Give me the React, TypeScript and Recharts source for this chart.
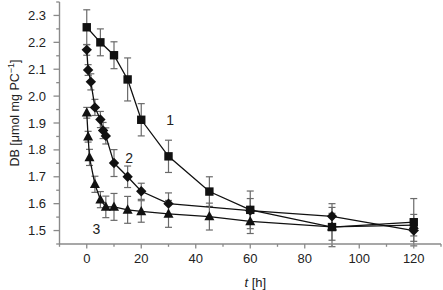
import React from 'react';
import { LineChart, Line, XAxis, YAxis, ErrorBar, ReferenceDot } from 'recharts';

// Series 1 (squares)
const tSquare = [0, 5, 10, 15, 20, 30, 45, 60, 90, 120];
const dbSquare = [2.256, 2.2, 2.152, 2.062, 1.912, 1.776, 1.645, 1.577, 1.513, 1.531];
const errSquare = [0.065, 0.05, 0.05, 0.08, 0.06, 0.06, 0.055, 0.07, 0.073, 0.088];

// Series 2 (diamonds)
const tDiamond = [0, 0.5, 1.5, 3, 5, 6, 7, 10, 15, 20, 30, 60, 90, 120];
const dbDiamond = [2.172, 2.097, 2.053, 1.958, 1.913, 1.872, 1.852, 1.751, 1.7, 1.646, 1.6, 1.574, 1.553, 1.5];
const errDiamond = [0.02, 0.02, 0.03, 0.03, 0.03, 0.03, 0.03, 0.05, 0.04, 0.03, 0.04, 0.045, 0.047, 0.04];

// Series 3 (triangles)
const tTriangle = [0, 0.5, 1, 3, 5, 7, 10, 15, 20, 30, 45, 60, 90, 120];
const dbTriangle = [1.938, 1.849, 1.772, 1.672, 1.615, 1.588, 1.588, 1.577, 1.571, 1.562, 1.552, 1.534, 1.514, 1.52];
const errTriangle = [0.02, 0.02, 0.03, 0.03, 0.03, 0.04, 0.05, 0.05, 0.04, 0.05, 0.05, 0.045, 0.05, 0.04];

// Axis ticks
const xTicks = [-10, 0, 10, 20, 30, 40, 50, 60, 70, 80, 90, 100, 110, 120, 130];
const xMajor = [0, 20, 40, 60, 80, 100, 120];
const yTicks = [1.45, 1.5, 1.55, 1.6, 1.65, 1.7, 1.75, 1.8, 1.85, 1.9, 1.95, 2.0, 2.05, 2.1, 2.15, 2.2, 2.25, 2.3, 2.35];
const yMajor = [1.5, 1.6, 1.7, 1.8, 1.9, 2.0, 2.1, 2.2, 2.3];

// Curve labels
const curveLabels = ['1', '2', '3'];
const curveLabelT = [30.6, 15.6, 3.5];
const curveLabelDb = [1.911, 1.769, 1.504];

const build = (t: number[], v: number[], e: number[]) => t.map((x, i) => ({ t: x, db: v[i], err: e[i] }));
const squareData = build(tSquare, dbSquare, errSquare);
const diamondData = build(tDiamond, dbDiamond, errDiamond);
const triangleData = build(tTriangle, dbTriangle, errTriangle);

const FONT = '"Liberation Sans", Arial, Helvetica, sans-serif';
const AXIS = '#8a8a8a';
const TEXT = '#222';

const isMajor = (v: number, majors: number[]) => majors.some((m) => Math.abs(m - v) < 1e-6);

const XTick = (props: any) => {
  const { x, y, payload } = props;
  const major = isMajor(payload.value, xMajor);
  return (
    <g>
      <line x1={x} x2={x} y1={y} y2={y + (major ? 4.5 : 2.8)} stroke={AXIS} strokeWidth={1.3} />
      {major && (
        <text x={x} y={y + 18.5} textAnchor="middle" fontSize={13} fontFamily={FONT} fill={TEXT}>
          {payload.value}
        </text>
      )}
    </g>
  );
};

const YTick = (props: any) => {
  const { x, y, payload } = props;
  const major = isMajor(payload.value, yMajor);
  return (
    <g>
      <line x1={x - (major ? 6 : 3.3)} x2={x} y1={y} y2={y} stroke={AXIS} strokeWidth={1.3} />
      {major && (
        <text x={x - 13.5} y={y + 4.6} textAnchor="end" fontSize={13} fontFamily={FONT} fill={TEXT}>
          {payload.value.toFixed(1)}
        </text>
      )}
    </g>
  );
};

const SquareDot = (props: any) => {
  const { cx, cy, index } = props;
  if (cx == null || cy == null) return <g key={`sq-${index}`} />;
  return <rect key={`sq-${index}`} x={cx - 4.2} y={cy - 4.2} width={8.4} height={8.4} fill="#111" />;
};

const DiamondDot = (props: any) => {
  const { cx, cy, index } = props;
  if (cx == null || cy == null) return <g key={`dm-${index}`} />;
  const r = 5.2;
  return (
    <polygon
      key={`dm-${index}`}
      points={`${cx},${cy - r} ${cx + r},${cy} ${cx},${cy + r} ${cx - r},${cy}`}
      fill="#111"
    />
  );
};

const TriangleDot = (props: any) => {
  const { cx, cy, index } = props;
  if (cx == null || cy == null) return <g key={`tr-${index}`} />;
  return (
    <polygon
      key={`tr-${index}`}
      points={`${cx},${cy - 5.5} ${cx + 5},${cy + 3.8} ${cx - 5},${cy + 3.8}`}
      fill="#111"
    />
  );
};

const YLabel = (props: any) => {
  const vb = props.viewBox || { x: 0, y: 0, width: 59.5, height: 242 };
  const cx = 18.5;
  const cy = vb.y + vb.height / 2 - 10;
  return (
    <text
      x={cx}
      y={cy}
      transform={`rotate(-90, ${cx}, ${cy})`}
      textAnchor="middle"
      fontSize={12.5}
      fontFamily={FONT}
      fill={TEXT}
    >
      <tspan>DB [μmol mg PC</tspan>
      <tspan dy={-5} fontSize={9}>−1</tspan>
      <tspan dy={5}>]</tspan>
    </text>
  );
};

const XLabel = (props: any) => {
  const vb = props.viewBox || { x: 59.5, y: 244, width: 381.5, height: 46 };
  const cx = vb.x + vb.width / 2 + 5;
  return (
    <text x={cx} y={vb.y + 43} textAnchor="middle" fontSize={13} fontFamily={FONT} fill={TEXT}>
      <tspan fontStyle="italic">t</tspan>
      <tspan> [h]</tspan>
    </text>
  );
};

export default function App() {
  return (
    <div style={{ position: 'absolute', left: 0, top: 0, width: 443, height: 290, background: '#fff' }}>
      <LineChart width={443} height={290} margin={{ top: 2, right: 2, left: 0, bottom: 0 }}>
        <XAxis
          dataKey="t"
          type="number"
          domain={[-10, 130]}
          ticks={xTicks}
          interval={0}
          allowDataOverflow
          height={46}
          stroke={AXIS}
          strokeWidth={1.4}
          tickLine={false}
          tickSize={0}
          tickMargin={0}
          tick={<XTick />}
          label={<XLabel />}
        />
        <YAxis
          type="number"
          domain={[1.45, 2.35]}
          ticks={yTicks}
          interval={0}
          allowDataOverflow
          width={59.5}
          stroke={AXIS}
          strokeWidth={1.4}
          tickLine={false}
          tickSize={0}
          tickMargin={0}
          tick={<YTick />}
          label={<YLabel />}
        />
        <Line
          data={squareData}
          dataKey="db"
          stroke="#111"
          strokeWidth={1.3}
          dot={SquareDot}
          activeDot={false}
          isAnimationActive={false}
        >
          <ErrorBar dataKey="err" direction="y" width={3.5} stroke="#6a6a6a" strokeWidth={1.2} />
        </Line>
        <Line
          data={diamondData}
          dataKey="db"
          stroke="#111"
          strokeWidth={1.3}
          dot={DiamondDot}
          activeDot={false}
          isAnimationActive={false}
        >
          <ErrorBar dataKey="err" direction="y" width={3.5} stroke="#6a6a6a" strokeWidth={1.2} />
        </Line>
        <Line
          data={triangleData}
          dataKey="db"
          stroke="#111"
          strokeWidth={1.3}
          dot={TriangleDot}
          activeDot={false}
          isAnimationActive={false}
        >
          <ErrorBar dataKey="err" direction="y" width={3.5} stroke="#6a6a6a" strokeWidth={1.2} />
        </Line>
        {curveLabels.map((lab, i) => (
          <ReferenceDot
            key={lab}
            x={curveLabelT[i]}
            y={curveLabelDb[i]}
            r={0}
            fill="none"
            stroke="none"
            label={{ value: lab, position: 'center', fontSize: 14, fontFamily: FONT, fill: TEXT }}
          />
        ))}
      </LineChart>
    </div>
  );
}
